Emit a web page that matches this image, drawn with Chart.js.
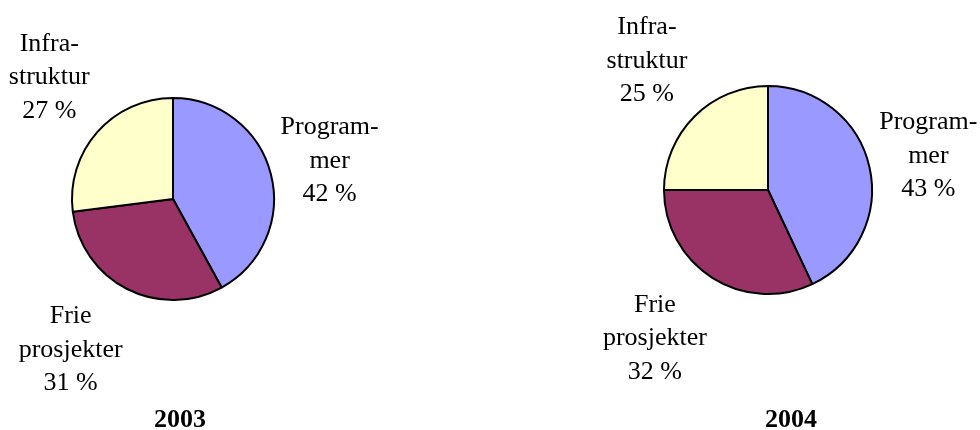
<!DOCTYPE html>
<html>
<head>
<meta charset="utf-8">
<script src="https://cdn.jsdelivr.net/npm/chart.js@4.4.6/dist/chart.umd.min.js"></script>
<style>
  html, body { margin: 0; padding: 0; background: #fff; }
  #wrap { position: relative; width: 980px; height: 430px; }
  canvas { position: absolute; top: 0; }
  #pie2003 { left: 0; }
  #pie2004 { left: 490px; }
</style>
</head>
<body>
<div id="wrap">
  <canvas id="pie2003" width="490" height="430"></canvas>
  <canvas id="pie2004" width="490" height="430"></canvas>
</div>
<script>
/* data */
const categories = ['Programmer', 'Frie prosjekter', 'Infrastruktur'];
const labelLines = [['Program-', 'mer'], ['Frie', 'prosjekter'], ['Infra-', 'struktur']];
const years = ['2003', '2004'];
const shares2003 = [42, 31, 27];
const shares2004 = [43, 32, 25];
const colors = ['#9999FF', '#993366', '#FFFFCC'];

const FONT = '"Liberation Serif", "Times New Roman", serif';

/* Excel-style outside labels, anchored at the slice bisector just outside the rim */
const sliceLabels = {
  id: 'sliceLabels',
  afterDatasetsDraw(chart, args, opts) {
    const { ctx } = chart;
    const meta = chart.getDatasetMeta(0);
    const values = chart.data.datasets[0].data;
    ctx.save();
    ctx.font = `${opts.size}px ${FONT}`;
    ctx.fillStyle = '#000';
    ctx.textAlign = 'center';
    ctx.textBaseline = 'middle';
    meta.data.forEach((arc, i) => {
      const { x, y, startAngle, endAngle, outerRadius } =
        arc.getProps(['x', 'y', 'startAngle', 'endAngle', 'outerRadius'], true);
      const a = (startAngle + endAngle) / 2;
      const dx = Math.cos(a), dy = Math.sin(a);
      const lines = [...labelLines[i], values[i] + ' %'];
      const w = Math.max(...lines.map(l => ctx.measureText(l).width));
      const h = lines.length * opts.lineHeight;
      const ax = x + (outerRadius + opts.gap) * dx;
      const ay = y + (outerRadius + opts.gap) * dy;
      const hx = Math.max(-1, Math.min(1, dx * 2.2));
      const vy = Math.abs(dy) > 0.5 ? Math.sign(dy) : dy;
      const bx = ax + hx * w / 2;
      const by = ay + vy * h / 2 + 2;
      lines.forEach((l, k) => {
        ctx.fillText(l, bx, by - h / 2 + (k + 0.5) * opts.lineHeight);
      });
    });
    // year caption under the pie
    ctx.font = `bold ${opts.size}px ${FONT}`;
    ctx.textBaseline = 'alphabetic';
    ctx.fillText(opts.title, opts.titleX, opts.titleY);
    ctx.restore();
  }
};

function makePie(id, values, padding, title, titleX) {
  return new Chart(document.getElementById(id), {
    type: 'pie',
    data: {
      labels: categories,
      datasets: [{
        data: values,
        backgroundColor: colors,
        borderColor: '#000',
        borderWidth: 2,
        hoverOffset: 0
      }]
    },
    options: {
      responsive: false,
      animation: false,
      layout: { padding },
      plugins: {
        legend: { display: false },
        tooltip: { enabled: false },
        sliceLabels: {
          size: 26, lineHeight: 33.5, gap: 10,
          title, titleX, titleY: 427
        }
      }
    },
    plugins: [sliceLabels]
  });
}

makePie('pie2003', shares2003, { left: 71, top: 97, right: 215, bottom: 129 }, years[0], 180);
makePie('pie2004', shares2004, { left: 173, top: 85, right: 107, bottom: 135 }, years[1], 301);
</script>
</body>
</html>
